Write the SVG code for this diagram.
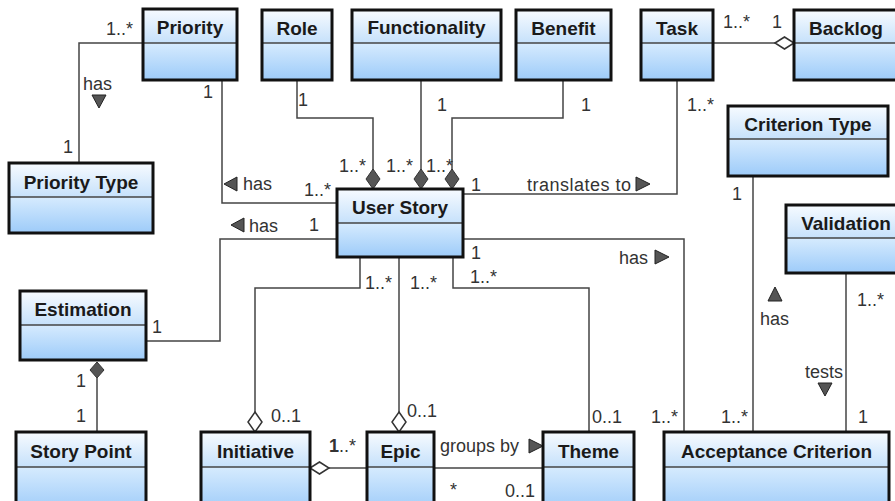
<svg xmlns="http://www.w3.org/2000/svg" width="895" height="501" viewBox="0 0 895 501">
<defs>
<linearGradient id="gh" x1="0" y1="0" x2="0" y2="1"><stop offset="0" stop-color="#f7fbff"/><stop offset="1" stop-color="#c6e1fb"/></linearGradient>
<linearGradient id="gb" x1="0" y1="0" x2="0" y2="1"><stop offset="0" stop-color="#d6ebfe"/><stop offset="1" stop-color="#9dcbf9"/></linearGradient>
<style>
.hd{fill:url(#gh)}
.bd{fill:url(#gb)}
.ob{fill:none;stroke:#111;stroke-width:3}
.dv{stroke:#444;stroke-width:1.5}
.tt{font-family:"Liberation Sans",Arial,sans-serif;font-weight:bold;font-size:19px;fill:#1a1a1a;text-anchor:middle}
.ln{fill:none;stroke:#444;stroke-width:1.5}
.lb{font-family:"Liberation Sans",Arial,sans-serif;font-size:18px;fill:#333}
.fd{fill:#555;stroke:#333;stroke-width:1}
.hdm{fill:#fff;stroke:#333;stroke-width:1.5}
.tri{fill:#555;stroke:#222;stroke-width:1}
</style>
</defs>
<rect width="895" height="501" fill="#fff"/>

<g id="connectors">
<polyline class="ln" points="143,43 79,43 79,163"/>
<polyline class="ln" points="222,80 222,203 337,203"/>
<polyline class="ln" points="146,341 220,341 220,239 337,239"/>
<polyline class="ln" points="297,80 297,118 373,118 373,170"/>
<polygon class="fd" points="373,169 380,179 373,189 366,179"/>
<polyline class="ln" points="421,80 421,170"/>
<polygon class="fd" points="421,169 428,179 421,189 414,179"/>
<polyline class="ln" points="563,80 563,118 452,118 452,170"/>
<polygon class="fd" points="452,169 459,179 452,189 445,179"/>
<polyline class="ln" points="463,194 677,194 677,80"/>
<polyline class="ln" points="713,43 775,43"/>
<polygon class="hdm" points="775,43 784.5,37 794,43 784.5,49"/>
<polyline class="ln" points="463,239 684,239 684,432"/>
<polyline class="ln" points="753,176 753,432"/>
<polyline class="ln" points="846,273 846,432"/>
<polyline class="ln" points="360,257 360,288 255,288 255,412"/>
<polygon class="hdm" points="255,412 262,422 255,432 248,422"/>
<polyline class="ln" points="399,257 399,412"/>
<polygon class="hdm" points="399,412 406,422 399,432 392,422"/>
<polyline class="ln" points="453,257 453,288 589,288 589,432"/>
<polyline class="ln" points="329,468 367,468"/>
<polygon class="hdm" points="310,468 319.5,462 329,468 319.5,474"/>
<polyline class="ln" points="434,468 543,468"/>
<polyline class="ln" points="97,378 97,432"/>
<polygon class="fd" points="97,362 104,370 97,378 90,370"/>

<text class="lb" x="106" y="35">1..*</text>
<text class="lb" x="83" y="90">has</text>
<polygon class="tri" points="92,95 106,95 99,108"/>
<text class="lb" x="63" y="153">1</text>
<text class="lb" x="203" y="98">1</text>
<polygon class="tri" points="237,177 237,191 224,184"/>
<text class="lb" x="243" y="190">has</text>
<text class="lb" x="304" y="196">1..*</text>
<polygon class="tri" points="244,218 244,232 231,225"/>
<text class="lb" x="249" y="232">has</text>
<text class="lb" x="309" y="231">1</text>
<text class="lb" x="298" y="106">1</text>
<text class="lb" x="339" y="172">1..*</text>
<text class="lb" x="437" y="111">1</text>
<text class="lb" x="386" y="172">1..*</text>
<text class="lb" x="581" y="111">1</text>
<text class="lb" x="426" y="172">1..*</text>
<text class="lb" x="471" y="191">1</text>
<text class="lb" x="527" y="191" textLength="104" lengthAdjust="spacing">translates to</text>
<polygon class="tri" points="636,177 636,191 650,184"/>
<text class="lb" x="687" y="111">1..*</text>
<text class="lb" x="723" y="28">1..*</text>
<text class="lb" x="772" y="28">1</text>
<text class="lb" x="732" y="200">1</text>
<text class="lb" x="471" y="259">1</text>
<text class="lb" x="619" y="264">has</text>
<polygon class="tri" points="655,250 655,264 669,257"/>
<text class="lb" x="365" y="289">1..*</text>
<text class="lb" x="410" y="289">1..*</text>
<text class="lb" x="470" y="283">1..*</text>
<text class="lb" x="271" y="422">0..1</text>
<text class="lb" x="407" y="417">0..1</text>
<text class="lb" x="592" y="423">0..1</text>
<text class="lb" x="651" y="423">1..*</text>
<text class="lb" x="721" y="423">1..*</text>
<text class="lb" x="858" y="423">1</text>
<polygon class="tri" points="768,301 782,301 775,287"/>
<text class="lb" x="760" y="325">has</text>
<text class="lb" x="857" y="306">1..*</text>
<text class="lb" x="805" y="378">tests</text>
<polygon class="tri" points="818,383 832,383 825,396"/>
<text class="lb" x="329" y="452"><tspan font-weight="bold">1</tspan>..*</text>
<text class="lb" x="440" y="452">groups by</text>
<polygon class="tri" points="529,439 529,453 543,446"/>
<text class="lb" x="450" y="496">*</text>
<text class="lb" x="505" y="497">0..1</text>
<text class="lb" x="152" y="333">1</text>
<text class="lb" x="76" y="387">1</text>
<text class="lb" x="76" y="422">1</text>
</g>

<g id="priority">
<rect class="hd" x="143" y="9" width="94" height="34"/><rect class="bd" x="143" y="43" width="94" height="37"/>
<line class="dv" x1="143" y1="43" x2="237" y2="43"/><rect class="ob" x="143" y="9" width="94" height="71"/>
<text class="tt" x="190" y="34">Priority</text>
</g>
<g id="role">
<rect class="hd" x="262" y="10" width="70" height="33"/><rect class="bd" x="262" y="43" width="70" height="37"/>
<line class="dv" x1="262" y1="43" x2="332" y2="43"/><rect class="ob" x="262" y="10" width="70" height="70"/>
<text class="tt" x="297" y="35">Role</text>
</g>
<g id="functionality">
<rect class="hd" x="352" y="10" width="149" height="33"/><rect class="bd" x="352" y="43" width="149" height="37"/>
<line class="dv" x1="352" y1="43" x2="501" y2="43"/><rect class="ob" x="352" y="10" width="149" height="70"/>
<text class="tt" x="426.5" y="34">Functionality</text>
</g>
<g id="benefit">
<rect class="hd" x="516" y="10" width="95" height="33"/><rect class="bd" x="516" y="43" width="95" height="37"/>
<line class="dv" x1="516" y1="43" x2="611" y2="43"/><rect class="ob" x="516" y="10" width="95" height="70"/>
<text class="tt" x="563.5" y="35">Benefit</text>
</g>
<g id="task">
<rect class="hd" x="641" y="10" width="72" height="33"/><rect class="bd" x="641" y="43" width="72" height="37"/>
<line class="dv" x1="641" y1="43" x2="713" y2="43"/><rect class="ob" x="641" y="10" width="72" height="70"/>
<text class="tt" x="677" y="35">Task</text>
</g>
<g id="backlog">
<rect class="hd" x="794" y="10" width="110" height="33"/><rect class="bd" x="794" y="43" width="110" height="37"/>
<line class="dv" x1="794" y1="43" x2="904" y2="43"/><rect class="ob" x="794" y="10" width="110" height="70"/>
<text class="tt" x="846" y="35">Backlog</text>
</g>
<g id="priority-type">
<rect class="hd" x="9" y="163" width="144" height="34"/><rect class="bd" x="9" y="197" width="144" height="36"/>
<line class="dv" x1="9" y1="197" x2="153" y2="197"/><rect class="ob" x="9" y="163" width="144" height="70"/>
<text class="tt" x="81" y="189">Priority Type</text>
</g>
<g id="criterion-type">
<rect class="hd" x="728" y="106" width="160" height="33"/><rect class="bd" x="728" y="139" width="160" height="37"/>
<line class="dv" x1="728" y1="139" x2="888" y2="139"/><rect class="ob" x="728" y="106" width="160" height="70"/>
<text class="tt" x="808" y="131">Criterion Type</text>
</g>
<g id="user-story">
<rect class="hd" x="337" y="189" width="126" height="34"/><rect class="bd" x="337" y="223" width="126" height="34"/>
<line class="dv" x1="337" y1="223" x2="463" y2="223"/><rect class="ob" x="337" y="189" width="126" height="68"/>
<text class="tt" x="400" y="214">User Story</text>
</g>
<g id="validation">
<rect class="hd" x="786" y="205" width="120" height="33"/><rect class="bd" x="786" y="238" width="120" height="35"/>
<line class="dv" x1="786" y1="238" x2="906" y2="238"/><rect class="ob" x="786" y="205" width="120" height="68"/>
<text class="tt" x="846" y="230">Validation</text>
</g>
<g id="estimation">
<rect class="hd" x="20" y="291" width="126" height="34"/><rect class="bd" x="20" y="325" width="126" height="35"/>
<line class="dv" x1="20" y1="325" x2="146" y2="325"/><rect class="ob" x="20" y="291" width="126" height="69"/>
<text class="tt" x="83" y="316">Estimation</text>
</g>
<g id="story-point">
<rect class="hd" x="16" y="432" width="130" height="35"/><rect class="bd" x="16" y="467" width="130" height="45"/>
<line class="dv" x1="16" y1="467" x2="146" y2="467"/><rect class="ob" x="16" y="432" width="130" height="80"/>
<text class="tt" x="81" y="458">Story Point</text>
</g>
<g id="initiative">
<rect class="hd" x="201" y="432" width="109" height="35"/><rect class="bd" x="201" y="467" width="109" height="45"/>
<line class="dv" x1="201" y1="467" x2="310" y2="467"/><rect class="ob" x="201" y="432" width="109" height="80"/>
<text class="tt" x="255.5" y="458">Initiative</text>
</g>
<g id="epic">
<rect class="hd" x="367" y="432" width="67" height="35"/><rect class="bd" x="367" y="467" width="67" height="45"/>
<line class="dv" x1="367" y1="467" x2="434" y2="467"/><rect class="ob" x="367" y="432" width="67" height="80"/>
<text class="tt" x="400.5" y="458">Epic</text>
</g>
<g id="theme">
<rect class="hd" x="543" y="432" width="91" height="35"/><rect class="bd" x="543" y="467" width="91" height="45"/>
<line class="dv" x1="543" y1="467" x2="634" y2="467"/><rect class="ob" x="543" y="432" width="91" height="80"/>
<text class="tt" x="588.5" y="458">Theme</text>
</g>
<g id="acceptance-criterion">
<rect class="hd" x="664" y="432" width="225" height="35"/><rect class="bd" x="664" y="467" width="225" height="45"/>
<line class="dv" x1="664" y1="467" x2="889" y2="467"/><rect class="ob" x="664" y="432" width="225" height="80"/>
<text class="tt" x="776.5" y="458">Acceptance Criterion</text>
</g>
</svg>
